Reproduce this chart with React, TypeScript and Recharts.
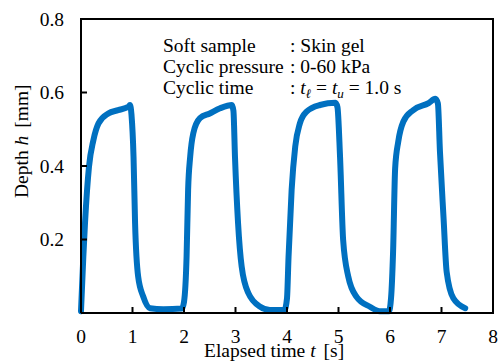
import { Line, LineChart, ReferenceArea, XAxis, YAxis } from 'recharts';

// 4サイクルの押し込み深さ(皮膚ゲル, 0-60 kPa, 1.0 s)

const times = [
  0, 0.045, 0.078, 0.155, 0.24, 0.34, 0.53, 0.72, 0.92, 0.95, 0.98, 1.02, 1.05, 1.11, 1.21, 1.34, 1.6, 1.96,
  2.0, 2.05, 2.08, 2.12, 2.18, 2.31, 2.5, 2.7, 2.93, 2.96, 2.99, 3.05, 3.12, 3.25, 3.48, 3.67, 3.95,
  4.0, 4.03, 4.09, 4.16, 4.25, 4.38, 4.64, 4.94, 4.98, 5.03, 5.09, 5.19, 5.35, 5.61, 5.8, 5.98,
  6.02, 6.06, 6.1, 6.16, 6.26, 6.45, 6.75, 6.88, 6.93, 6.97, 7.04, 7.1, 7.23, 7.46,
];
const depths = [
  0.005, 0.153, 0.245, 0.398, 0.47, 0.516, 0.543, 0.552, 0.561, 0.566, 0.54, 0.425, 0.245, 0.099, 0.044, 0.013, 0.01, 0.012,
  0.03, 0.153, 0.335, 0.425, 0.489, 0.53, 0.543, 0.557, 0.566, 0.55, 0.425, 0.244, 0.126, 0.054, 0.017, 0.008, 0.008,
  0.04, 0.153, 0.335, 0.453, 0.516, 0.548, 0.566, 0.572, 0.56, 0.425, 0.199, 0.099, 0.044, 0.017, 0.005, 0.005,
  0.04, 0.167, 0.394, 0.466, 0.521, 0.552, 0.571, 0.583, 0.57, 0.439, 0.258, 0.112, 0.04, 0.013,
];

const xTicks = [0, 1, 2, 3, 4, 5, 6, 7, 8];
const yTicks = [0, 0.2, 0.4, 0.6, 0.8];

const data = times.map((t, i) => ({ t, h: depths[i] }));

const FONT = 'Liberation Serif, Times New Roman, serif';
const FS = 19.5;
const BLUE = '#0070c0';
const GAP = 17;
const txt = { fontFamily: FONT, fontSize: FS };

function YTick(props: any) {
  const { x, y, payload } = props;
  const ax = x + GAP;
  return (
    <g>
      <line x1={ax} x2={ax + 6} y1={y} y2={y} stroke="#000" strokeWidth={2} />
      {payload.value !== 0 && (
        <text x={x} y={y} dy={6.5} textAnchor="end" style={txt} fill="#000">
          {payload.value.toFixed(1)}
        </text>
      )}
    </g>
  );
}

function XTick(props: any) {
  const { x, y, payload } = props;
  const ay = y - GAP;
  return (
    <g>
      <line x1={x} x2={x} y1={ay} y2={ay - 6} stroke="#000" strokeWidth={2} />
      <text x={x} y={y} dy={13} textAnchor="middle" style={txt} fill="#000">
        {payload.value}
      </text>
    </g>
  );
}

export default function App() {
  return (
    <div style={{ position: 'absolute', left: 0, top: 0, width: 501, height: 361, background: '#fff' }}>
      <LineChart width={501} height={361} data={data} margin={{ top: 19, right: 8, bottom: 0, left: 0 }}>
        <XAxis
          dataKey="t"
          type="number"
          domain={[0, 8]}
          ticks={xTicks}
          height={48}
          tickSize={0}
          tickMargin={GAP}
          tickLine={false}
          axisLine={{ stroke: '#000', strokeWidth: 2 }}
          tick={XTick}
        />
        <YAxis
          type="number"
          domain={[0, 0.8]}
          ticks={yTicks}
          width={81}
          tickSize={0}
          tickMargin={GAP}
          tickLine={false}
          axisLine={{ stroke: '#000', strokeWidth: 2 }}
          tick={YTick}
        />
        <ReferenceArea x1={0} x2={8} y1={0} y2={0.8} fill="none" stroke="#000" strokeWidth={2} />
        <Line
          dataKey="h"
          type="monotone"
          stroke={BLUE}
          strokeWidth={6}
          strokeLinejoin="round"
          strokeLinecap="round"
          dot={false}
          isAnimationActive={false}
        />
      </LineChart>
      <svg
        width={501}
        height={361}
        style={{ position: 'absolute', left: 0, top: 0, pointerEvents: 'none', ...txt }}
        fill="#000"
      >
        <text x={163} y={52}>Soft sample</text>
        <text x={290} y={52}>: Skin gel</text>
        <text x={163} y={73}>Cyclic pressure</text>
        <text x={290} y={73}>: 0-60 kPa</text>
        <text x={163} y={94}>Cyclic time</text>
        <text x={290} y={94}>
          :{' '}
          <tspan fontStyle="italic">t</tspan>
          <tspan fontStyle="italic" fontSize={13} dy={4}>ℓ</tspan>
          <tspan dy={-4}> = </tspan>
          <tspan fontStyle="italic">t</tspan>
          <tspan fontStyle="italic" fontSize={13} dy={4}>u</tspan>
          <tspan dy={-4}> = 1.0 s</tspan>
        </text>
        <text x={204} y={357}>
          Elapsed time <tspan fontStyle="italic">t</tspan>
          <tspan dx={8}>[s]</tspan>
        </text>
        <text x={28} y={198} transform="rotate(-90 28 198)">
          Depth <tspan fontStyle="italic">h</tspan>
          <tspan dx={8}>[mm]</tspan>
        </text>
      </svg>
    </div>
  );
}
